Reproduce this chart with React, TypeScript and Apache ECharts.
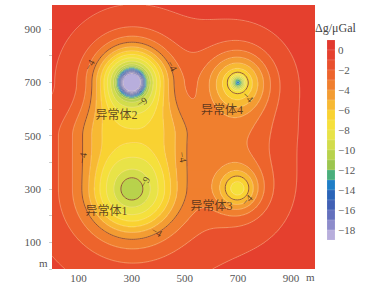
import React, { useEffect, useRef } from 'react';
import * as echarts from 'echarts';

const X_MAX = 990;
const Y_MAX = 990;

// regional level (μGal)
const BACKGROUND = -0.4;
// elongated anomaly joining bodies 1 and 2 (capsule along x = 300 m, y = 300..700 m)
const PEANUT_X = 300;
const PEANUT_Y0 = 300;
const PEANUT_Y1 = 700;
const PEANUT_AMP = -6.3;
const PEANUT_WIDTH = 200;
const PEANUT_SHAPE = 3.4;
const PEANUT_TAPER = 0.35;
// compact cores: amp * exp(-(r/width)^shape)
const CORE_X = [300, 300, 300, 300, 700];
const CORE_Y = [300, 300, 700, 700, 700];
const CORE_AMP = [-2.2, -2.0, -7.5, -5.8, -6];
const CORE_WIDTH = [55, 140, 50, 95, 23];
const CORE_SHAPE = [2, 4, 4, 2, 2];
// halos of bodies 3 and 4: amp * (1 + (r/width)^2)^-exp
const HALO_X = [700, 700];
const HALO_Y = [300, 700];
const HALO_AMP = [-6.3, -6.5];
const HALO_WIDTH = [95, 170];
const HALO_EXP = [1.5, 2.5];
// weak link between bodies 3 and 4
const BRIDGE_X = 700;
const BRIDGE_Y = 500;
const BRIDGE_AMP = -1.1;
const BRIDGE_SX = 150;
const BRIDGE_SY = 170;

// colour bands (upper bound of each 1 μGal band)
const BAND_TOP = [1, 0, -1, -2, -3, -4, -5, -6, -7, -8, -9, -10, -11, -12, -13, -14, -15, -16, -17, -18];
const BAND_COLORS = [
  '#e2392f', '#e5402f', '#e9502e', '#ed642d', '#f07f2f', '#f39c33', '#f7b934', '#f9d232', '#f6e03c', '#e8e348',
  '#d2dc4c', '#b8d24c', '#9cc64f', '#4aae7c', '#1f7ec7', '#2a64b8', '#4160b5', '#6470bd', '#8d8ccb', '#b8aedc',
];
const LIGHT_LEVELS = [-1, -2, -3, -4, -5, -6, -7, -8, -9, -10, -11, -12, -13, -14, -15, -16, -17, -18];

const BODY_NAMES = ['异常体1', '异常体2', '异常体3', '异常体4'];
const BODY_LABEL_X = [205, 243, 600, 640];
const BODY_LABEL_Y = [218, 577, 237, 597];

const CONTOUR_LABEL_TEXT = ['−4', '−4', '−4', '−4', '−4', '−4', '−4', '−9', '−9'];
const CONTOUR_LABEL_X = [141, 452, 115, 492, 394, 738, 734, 338, 349];
const CONTOUR_LABEL_Y = [765, 761, 416, 420, 139, 645, 259, 626, 326];
const CONTOUR_LABEL_ROT = [60, -60, 80, -80, -30, -45, 45, 30, 60];

function smooth(a: number, b: number, t: number) {
  const u = Math.max(0, Math.min(1, (t - a) / (b - a)));
  return u * u * (3 - 2 * u);
}

function field(x: number, y: number): number {
  let v = BACKGROUND;
  const t = Math.max(0, Math.min(1, (y - PEANUT_Y0) / (PEANUT_Y1 - PEANUT_Y0)));
  const py = PEANUT_Y0 + t * (PEANUT_Y1 - PEANUT_Y0);
  const d = Math.hypot(x - PEANUT_X, y - py) * (1 + PEANUT_TAPER * smooth(0.5, 1, t));
  v += PEANUT_AMP / (1 + Math.pow(d / PEANUT_WIDTH, PEANUT_SHAPE));
  for (let k = 0; k < CORE_X.length; k++) {
    const r = Math.hypot(x - CORE_X[k], y - CORE_Y[k]);
    v += CORE_AMP[k] * Math.exp(-Math.pow(r / CORE_WIDTH[k], CORE_SHAPE[k]));
  }
  for (let k = 0; k < HALO_X.length; k++) {
    const dx = x - HALO_X[k];
    const dy = y - HALO_Y[k];
    v += HALO_AMP[k] * Math.pow(1 + (dx * dx + dy * dy) / (HALO_WIDTH[k] * HALO_WIDTH[k]), -HALO_EXP[k]);
  }
  const bx = (x - BRIDGE_X) / BRIDGE_SX;
  const by = (y - BRIDGE_Y) / BRIDGE_SY;
  v += BRIDGE_AMP * Math.exp(-bx * bx - by * by);
  return v;
}

function bandOf(v: number): number {
  const idx = 1 - Math.ceil(v);
  return Math.max(0, Math.min(BAND_TOP.length - 1, idx));
}

function buildFill() {
  const n = 264;
  const st = X_MAX / n;
  const out: number[][] = [];
  for (let j = 0; j < n; j++) {
    const yc = (j + 0.5) * st;
    let start = 0;
    let prev = bandOf(field(0.5 * st, yc));
    for (let i = 1; i <= n; i++) {
      const b = i < n ? bandOf(field((i + 0.5) * st, yc)) : -1;
      if (b !== prev) {
        out.push([start * st, i * st, j * st, (j + 1) * st, prev]);
        start = i;
        prev = b;
      }
    }
  }
  return out;
}

const CN = 132;
const CST = X_MAX / CN;
let nodeVals: Float64Array | null = null;
function nodes() {
  if (nodeVals) return nodeVals;
  nodeVals = new Float64Array((CN + 1) * (CN + 1));
  for (let j = 0; j <= CN; j++) for (let i = 0; i <= CN; i++) nodeVals[j * (CN + 1) + i] = field(i * CST, j * CST);
  return nodeVals;
}

function buildContours(level: number): number[][][] {
  const n = CN;
  const st = CST;
  const vals = nodes();
  const V = (i: number, j: number) => vals[j * (n + 1) + i];
  const pts = new Map<string, number[]>();
  const adj = new Map<string, string[]>();
  const hKey = (i: number, j: number) => {
    const k = 'h' + i + '_' + j;
    if (!pts.has(k)) {
      const a = V(i, j), b = V(i + 1, j);
      pts.set(k, [(i + (level - a) / (b - a)) * st, j * st]);
    }
    return k;
  };
  const vKey = (i: number, j: number) => {
    const k = 'v' + i + '_' + j;
    if (!pts.has(k)) {
      const a = V(i, j), b = V(i, j + 1);
      pts.set(k, [i * st, (j + (level - a) / (b - a)) * st]);
    }
    return k;
  };
  const link = (k1: string, k2: string) => {
    if (!adj.has(k1)) adj.set(k1, []);
    if (!adj.has(k2)) adj.set(k2, []);
    adj.get(k1)!.push(k2);
    adj.get(k2)!.push(k1);
  };
  for (let j = 0; j < n; j++) {
    for (let i = 0; i < n; i++) {
      const a = V(i, j) < level, b = V(i + 1, j) < level, c = V(i + 1, j + 1) < level, d = V(i, j + 1) < level;
      const e: string[] = [];
      if (a !== b) e.push('b');
      if (b !== c) e.push('r');
      if (d !== c) e.push('t');
      if (a !== d) e.push('l');
      if (e.length === 0) continue;
      const key = (s: string) => (s === 'b' ? hKey(i, j) : s === 'r' ? vKey(i + 1, j) : s === 't' ? hKey(i, j + 1) : vKey(i, j));
      if (e.length === 2) link(key(e[0]), key(e[1]));
      else if (e.length === 4) {
        const cen = (V(i, j) + V(i + 1, j) + V(i + 1, j + 1) + V(i, j + 1)) / 4 < level;
        if (cen === a) {
          link(key('b'), key('r'));
          link(key('t'), key('l'));
        } else {
          link(key('b'), key('l'));
          link(key('r'), key('t'));
        }
      }
    }
  }
  const visited = new Set<string>();
  const lines: number[][][] = [];
  const walk = (start: string) => {
    const path = [start];
    visited.add(start);
    let prev = '';
    let cur = start;
    for (;;) {
      const nb = adj.get(cur)!.find((x) => x !== prev && !visited.has(x));
      if (!nb) break;
      path.push(nb);
      visited.add(nb);
      prev = cur;
      cur = nb;
    }
    if (path.length > 2 && adj.get(cur)!.includes(start)) path.push(start);
    return path.map((k) => pts.get(k)!);
  };
  for (const [k, nbs] of adj) if (nbs.length === 1 && !visited.has(k)) lines.push(walk(k));
  for (const k of adj.keys()) if (!visited.has(k)) lines.push(walk(k));
  return lines;
}

function splitWhere(line: number[][], keep: (p: number[]) => boolean): number[][][] {
  const out: number[][][] = [];
  let cur: number[][] = [];
  for (const p of line) {
    if (keep(p)) cur.push(p);
    else {
      if (cur.length > 1) out.push(cur);
      cur = [];
    }
  }
  if (cur.length > 1) out.push(cur);
  return out;
}

const SERIF = '"Liberation Serif", "DejaVu Serif", serif';
const CJK = '"Liberation Serif", "Noto Sans CJK SC", serif';

export default function App() {
  const ref = useRef<HTMLDivElement>(null);
  useEffect(() => {
    if (!ref.current) return;
    const chart = echarts.init(ref.current, undefined, { renderer: 'svg' });
    const fill = buildFill();
    const light: { coords: number[][] }[] = [];
    const dark: { coords: number[][] }[] = [];
    const near = (cx: number, cy: number, rad: number) => (p: number[]) => Math.hypot(p[0] - cx, p[1] - cy) < rad;
    for (const L of LIGHT_LEVELS) {
      const ls = buildContours(L);
      for (const l of ls) {
        light.push({ coords: l });
        let parts: number[][][] = [];
        if (L === -4) parts = splitWhere(l, (p) => p[0] < 540);
        if (L === -10) parts = splitWhere(l, near(300, 300, 90));
        if (L === -6) parts = splitWhere(l, near(700, 300, 80));
        if (L === -7) parts = splitWhere(l, near(700, 700, 80));
        for (const c of parts) dark.push({ coords: c });
      }
    }
    const tickFmt = (v: number) => (v % 200 === 100 ? String(v) : '');
    chart.setOption({
      animation: false,
      grid: [
        { left: 52, top: 5, width: 263, height: 264 },
        { left: 327, top: 40, width: 8, height: 200 },
      ],
      xAxis: [
        {
          type: 'value', min: 0, max: X_MAX, interval: 100, gridIndex: 0,
          axisLine: { show: false }, splitLine: { show: false },
          axisTick: { show: false },
          axisLabel: { formatter: tickFmt, fontFamily: SERIF, fontSize: 11, color: '#555', margin: 3, showMaxLabel: false },
        },
        { type: 'value', min: 0, max: 1, gridIndex: 1, show: false },
      ],
      yAxis: [
        {
          type: 'value', min: 0, max: Y_MAX, interval: 100, gridIndex: 0,
          axisLine: { show: false }, splitLine: { show: false },
          axisTick: { show: true, length: 3, lineStyle: { color: '#ccc' } },
          axisLabel: { formatter: tickFmt, fontFamily: SERIF, fontSize: 11, color: '#555', margin: 11, showMaxLabel: false },
        },
        {
          type: 'value', min: -19, max: 1, interval: 1, gridIndex: 1, position: 'right',
          axisLine: { show: false }, splitLine: { show: false }, axisTick: { show: false },
          axisLabel: {
            formatter: (v: number) => (v <= 0 && v % 2 === 0 ? (v < 0 ? '−' + Math.abs(v) : '0') : ''),
            fontFamily: SERIF, fontSize: 11, color: '#555', margin: 3, align: 'left',
          },
        },
      ],
      series: [
        {
          type: 'custom', xAxisIndex: 0, yAxisIndex: 0, clip: true, silent: true, z: 1, progressive: 0,
          data: fill,
          encode: { x: [0, 1], y: [2, 3] },
          renderItem: (_p: any, api: any) => {
            const p0 = api.coord([api.value(0), api.value(3)]);
            const p1 = api.coord([api.value(1), api.value(2)]);
            return {
              type: 'rect',
              shape: { x: p0[0], y: p0[1] - 0.3, width: p1[0] - p0[0] + 0.3, height: p1[1] - p0[1] + 0.6 },
              style: { fill: BAND_COLORS[api.value(4)] },
            };
          },
        },
        {
          type: 'lines', coordinateSystem: 'cartesian2d', xAxisIndex: 0, yAxisIndex: 0, polyline: true, silent: true, z: 2,
          data: light,
          lineStyle: { color: '#ffe3b8', width: 0.6, opacity: 0.6 },
        },
        {
          type: 'lines', coordinateSystem: 'cartesian2d', xAxisIndex: 0, yAxisIndex: 0, polyline: true, silent: true, z: 3,
          data: dark,
          lineStyle: { color: '#7e3d26', width: 0.9, opacity: 0.9 },
        },
        {
          type: 'scatter', xAxisIndex: 0, yAxisIndex: 0, symbolSize: 0, silent: true, z: 4,
          data: CONTOUR_LABEL_TEXT.map((t, i) => ({
            name: t, value: [CONTOUR_LABEL_X[i], CONTOUR_LABEL_Y[i]],
            label: { rotate: CONTOUR_LABEL_ROT[i] },
          })),
          label: { show: true, position: 'inside', formatter: '{b}', fontFamily: SERIF, fontSize: 10, color: '#3a2418' },
        },
        {
          type: 'scatter', xAxisIndex: 0, yAxisIndex: 0, symbolSize: 0, silent: true, z: 4,
          data: BODY_NAMES.map((t, i) => ({ name: t, value: [BODY_LABEL_X[i], BODY_LABEL_Y[i]] })),
          label: { show: true, position: 'inside', formatter: '{b}', fontFamily: CJK, fontSize: 12, color: '#3a2418' },
        },
        {
          type: 'custom', xAxisIndex: 1, yAxisIndex: 1, silent: true, z: 1,
          data: BAND_TOP.map((t, i) => [0, 1, t - 1, t, i]),
          encode: { x: [0, 1], y: [2, 3] },
          renderItem: (_p: any, api: any) => {
            const p0 = api.coord([api.value(0), api.value(3)]);
            const p1 = api.coord([api.value(1), api.value(2)]);
            return {
              type: 'rect',
              shape: { x: p0[0], y: p0[1], width: p1[0] - p0[0], height: p1[1] - p0[1] },
              style: { fill: BAND_COLORS[api.value(4)], stroke: 'rgba(255,255,255,0.25)', lineWidth: 0.5 },
            };
          },
        },
      ],
      graphic: [
        { type: 'text', left: 315, top: 22, style: { text: 'Δg/μGal', font: '12px ' + SERIF, fill: '#444' } },
        { type: 'text', left: 39, top: 257, style: { text: 'm', font: '11px ' + SERIF, fill: '#555' } },
        { type: 'text', left: 306, top: 271, style: { text: 'm', font: '11px ' + SERIF, fill: '#555' } },
      ],
    });
    return () => chart.dispose();
  }, []);
  return <div ref={ref} style={{ width: 374, height: 288, position: 'absolute', left: 0, top: 0 }} />;
}
